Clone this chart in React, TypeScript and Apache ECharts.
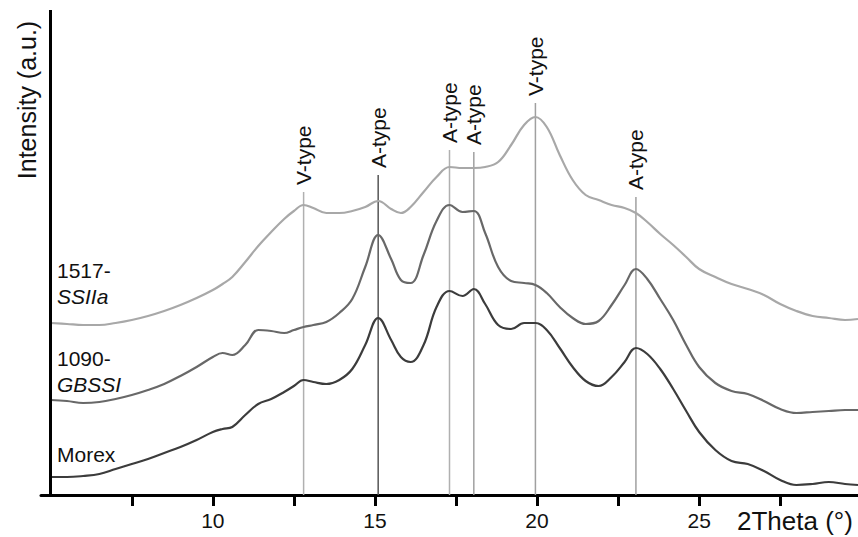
import React, { useEffect, useRef } from "react";
import * as echarts from "echarts";

// 2Theta sample positions (degrees)
const theta = [5.0, 5.5, 6.0, 6.5, 7.0, 7.5, 8.0, 8.5, 9.0, 9.5, 10.0, 10.3, 10.6, 11.0, 11.4, 11.8, 12.2, 12.5, 12.8, 13.1, 13.5, 13.9, 14.3, 14.7, 15.1, 15.5, 15.8, 16.1, 16.5, 16.9, 17.3, 17.7, 18.05, 18.4, 18.8, 19.2, 19.6, 19.95, 20.3, 20.7, 21.1, 21.5, 21.9, 22.3, 22.7, 23.05, 23.4, 23.8, 24.2, 24.6, 25.0, 25.5, 26.0, 26.5, 27.0, 27.5, 28.0, 28.5, 29.0, 29.5, 29.9];

// Intensity (a.u., stacked offsets as drawn)
const ssiia = [172, 171, 170, 170, 172, 175, 179, 184, 190, 197, 205, 211, 218, 233, 249, 263, 276, 284, 290, 287, 282, 282, 284, 288, 294, 286, 282, 288, 303, 318, 328, 327, 327, 328, 333, 350, 370, 378, 368, 340, 315, 300, 295, 290, 287, 282, 273, 261, 250, 238, 226, 218, 211, 206, 200, 191, 184, 179, 177, 175, 176];
const gbssi = [95, 94, 92, 93, 96, 100, 105, 111, 119, 128, 138, 142, 140, 150, 165, 164, 162, 165, 168, 170, 173, 182, 196, 228, 260, 236, 215, 212, 240, 274, 290, 283, 284, 262, 228, 214, 212, 210, 202, 188, 177, 171, 174, 190, 210, 226, 216, 196, 175, 150, 128, 112, 104, 101, 94, 86, 82, 83, 84, 85, 85];
const morex = [18, 18, 19, 21, 26, 31, 36, 42, 48, 55, 63, 66, 68, 80, 91, 96, 103, 109, 115, 113, 111, 115, 126, 150, 177, 155, 138, 133, 150, 188, 204, 199, 206, 191, 170, 166, 172, 172, 165, 147, 128, 114, 109, 118, 133, 147, 141, 126, 106, 84, 63, 45, 34, 31, 24, 15, 10, 11, 13, 11, 10];

// Reference peak markers
const peakPositions = [12.8, 15.1, 17.3, 18.05, 19.95, 23.05];
const peakLabels = ["V-type", "A-type", "A-type", "A-type", "V-type", "A-type"];
const peakLineTops = [303, 320, 345, 343, 392, 298];

// Axis ticks
const tickValues = [7.5, 10, 12.5, 15, 17.5, 20, 22.5, 25, 27.5];
const tickLabels = [10, 15, 20, 25];

const peakColors = ["#b0b0b0", "#555555", "#b0b0b0", "#a0a0a0", "#a0a0a0", "#a0a0a0"];

export default function App() {
  const ref = useRef<HTMLDivElement>(null);
  useEffect(() => {
    if (!ref.current) return;
    const chart = echarts.init(ref.current, null, { renderer: "svg" });
    const font = "Liberation Sans, Arial, sans-serif";
    const pair = (ys: number[]) => theta.map((t, i) => [t, ys[i]]);
    chart.setOption({
      animation: false,
      backgroundColor: "#ffffff",
      grid: { left: 41, right: 0, top: 10, bottom: 42 },
      xAxis: {
        type: "value",
        min: 4.7,
        max: 29.9,
        axisLine: { show: true, lineStyle: { color: "#000", width: 3 } },
        axisTick: { show: true, customValues: tickValues, length: 11, lineStyle: { color: "#000", width: 3 } },
        axisLabel: { show: true, customValues: tickLabels, margin: 15, fontSize: 21, color: "#111", fontFamily: font },
        splitLine: { show: false },
      },
      yAxis: { type: "value", min: 0, max: 485, show: false },
      series: [
        {
          type: "custom",
          z: 1,
          silent: true,
          data: peakPositions.map((p, i) => [p, peakLineTops[i]]),
          renderItem: (params: any, api: any) => {
            const x = api.value(0);
            const h = api.value(1);
            const p0 = api.coord([x, 0]);
            const p1 = api.coord([x, h]);
            const i = params.dataIndex;
            return {
              type: "group",
              children: [
                { type: "line", shape: { x1: p0[0], y1: p0[1], x2: p1[0], y2: p1[1] }, style: { stroke: peakColors[i], lineWidth: 1.5 } },
                {
                  type: "text",
                  x: p1[0],
                  y: p1[1] - 7,
                  rotation: Math.PI / 2,
                  style: { text: peakLabels[i], align: "left", verticalAlign: "middle", fontSize: 21, fontFamily: font, fill: "#111" },
                },
              ],
            };
          },
        },
        {
          name: "1517-SSIIa",
          type: "line",
          z: 3,
          data: pair(ssiia),
          showSymbol: false,
          smooth: 0.4,
          lineStyle: { color: "#a8a8a8", width: 2.2 },
        },
        {
          name: "1090-GBSSI",
          type: "line",
          z: 3,
          data: pair(gbssi),
          showSymbol: false,
          smooth: 0.4,
          lineStyle: { color: "#686868", width: 2.2 },
        },
        {
          name: "Morex",
          type: "line",
          z: 3,
          data: pair(morex),
          showSymbol: false,
          smooth: 0.4,
          lineStyle: { color: "#3c3c3c", width: 2.2 },
          markLine: {
            silent: true,
            symbol: "none",
            label: { show: false },
            lineStyle: { color: "#000", width: 3, type: "solid" },
            data: [{ xAxis: 5 }],
          },
        },
      ],
      graphic: [
        { type: "text", x: 27, y: 100, rotation: Math.PI / 2, style: { text: "Intensity (a.u.)", align: "center", verticalAlign: "middle", fontSize: 25, fontFamily: font, fill: "#111" } },
        { type: "text", x: 737, y: 521, style: { text: "2Theta (°)", align: "left", verticalAlign: "middle", fontSize: 26, fontFamily: font, fill: "#111" } },
        { type: "text", x: 57, y: 270, style: { text: "1517-", verticalAlign: "middle", fontSize: 21, fontFamily: font, fill: "#111" } },
        { type: "text", x: 57, y: 296, style: { text: "SSIIa", verticalAlign: "middle", fontSize: 21, fontStyle: "italic", fontFamily: font, fill: "#111" } },
        { type: "text", x: 57, y: 358, style: { text: "1090-", verticalAlign: "middle", fontSize: 21, fontFamily: font, fill: "#111" } },
        { type: "text", x: 57, y: 384, style: { text: "GBSSI", verticalAlign: "middle", fontSize: 21, fontStyle: "italic", fontFamily: font, fill: "#111" } },
        { type: "text", x: 57, y: 454, style: { text: "Morex", verticalAlign: "middle", fontSize: 21, fontFamily: font, fill: "#111" } },
      ],
    });
    return () => chart.dispose();
  }, []);
  return <div ref={ref} style={{ position: "fixed", left: 0, top: 0, width: 858, height: 537 }} />;
}
